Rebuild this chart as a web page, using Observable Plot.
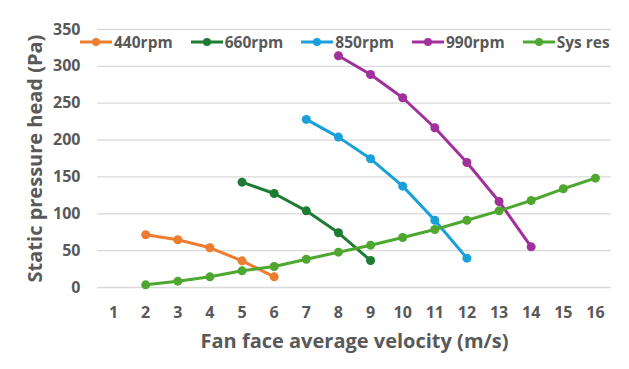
<!DOCTYPE html>
<html><head><meta charset="utf-8">
<script src="https://cdn.jsdelivr.net/npm/d3@7"></script>
<script src="https://cdn.jsdelivr.net/npm/@observablehq/plot@0.6"></script>
<style>
body{margin:0;background:#fff;}
#wrap{position:relative;width:629px;height:369px;font-family:"Open Sans",sans-serif;}
#legend{position:absolute;top:31px;left:80px;display:flex;align-items:center;font-weight:bold;font-size:15.5px;color:#595959;white-space:nowrap;}
.item{display:flex;align-items:center;margin-right:18px;}
.item svg{margin-right:2px;}
</style></head><body>
<div id="wrap"><div id="legend"></div></div>
<script>
const seriesNames = ["440rpm","660rpm","850rpm","990rpm","Sys res"];
const seriesColors = ["#ED7D31","#1E7B34","#1AA0D8","#A0309A","#4EA72E"];
const v440 = [2,3,4,5,6];
const p440 = [71.5,64.7,53.9,36.2,14.5];
const v660 = [5,6,7,8,9];
const p660 = [142.9,127.5,104,74.2,36.6];
const v850 = [7,8,9,10,11,12];
const p850 = [228,204,174.6,137.5,91.3,39.8];
const v990 = [8,9,10,11,12,13,14];
const p990 = [314.4,289,257.4,216.7,169.6,116.7,55.2];
const vSys = [2,3,4,5,6,7,8,9,10,11,12,13,14,15,16];
const pSys = [3.6,8.6,14.5,22.6,28.5,38.4,47.9,57.4,67.8,78.7,91.3,104,118,133.9,148.3];
const xTicks = [1,2,3,4,5,6,7,8,9,10,11,12,13,14,15,16];
const yTicks = [0,50,100,150,200,250,300,350];
const xTitle = "Fan face average velocity (m/s)";
const yTitle = "Static pressure head (Pa)";

const vs = [v440,v660,v850,v990,vSys];
const ps = [p440,p660,p850,p990,pSys];
const rows = [];
vs.forEach((v,i)=>v.forEach((x,j)=>rows.push({series:seriesNames[i],v:x,p:ps[i][j]})));

const plot = Plot.plot({
  width:629, height:369,
  marginLeft:97, marginRight:18, marginTop:29, marginBottom:82,
  style:{fontFamily:"Open Sans, sans-serif", color:"#595959", background:"transparent"},
  x:{domain:[0.5,16.5], ticks:xTicks, label:null},
  y:{domain:[0,350], ticks:yTicks, label:null},
  color:{domain:seriesNames, range:seriesColors},
  marks:[
    Plot.gridY(yTicks,{stroke:"#d9d9d9", strokeOpacity:1, strokeWidth:1.3}),
    Plot.axisX(xTicks,{tickSize:0, tickPadding:19, fontSize:16, fontWeight:"bold", fill:"#595959", tickFormat:d=>String(d)}),
    Plot.axisY(yTicks,{tickSize:0, tickPadding:17, fontSize:16, fontWeight:"bold", fill:"#595959", tickFormat:d=>String(d)}),
    Plot.line(rows,{x:"v", y:"p", z:"series", stroke:"series", strokeWidth:3}),
    Plot.dot(rows,{x:"v", y:"p", fill:"series", r:4.5}),
    Plot.text([xTitle],{frameAnchor:"bottom", dy:60, fontSize:20, fontWeight:"bold", fill:"#595959"}),
    Plot.text([yTitle],{frameAnchor:"left", dx:-62, rotate:-90, textAnchor:"middle", fontSize:20, fontWeight:"bold", fill:"#595959"})
  ]
});
document.getElementById("wrap").prepend(plot);

const legend = document.getElementById("legend");
seriesNames.forEach((n,i)=>{
  const it = document.createElement("div"); it.className="item";
  it.innerHTML = `<svg width="32" height="10"><line x1="0" y1="5" x2="32" y2="5" stroke="${seriesColors[i]}" stroke-width="3"/><circle cx="16" cy="5" r="4" fill="${seriesColors[i]}"/></svg><span>${n}</span>`;
  legend.appendChild(it);
});
</script>
</body></html>
